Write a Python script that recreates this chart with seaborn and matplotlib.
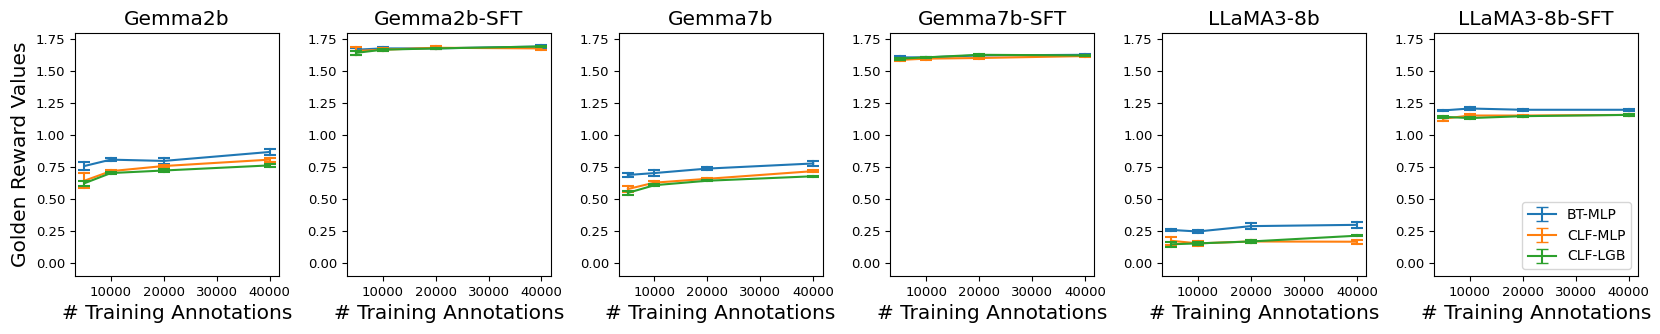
import numpy as np
import pandas as pd
import matplotlib.pyplot as plt
import seaborn as sns

models = ["Gemma2b", "Gemma2b-SFT", "Gemma7b", "Gemma7b-SFT", "LLaMA3-8b", "LLaMA3-8b-SFT"]
methods = ["BT-MLP", "CLF-MLP", "CLF-LGB"]
annotations = [5000, 10000, 20000, 40000]

# mean golden reward per model (rows) and annotation count (cols)
bt_mlp_mean = [
    [0.76, 0.81, 0.80, 0.87],
    [1.67, 1.68, 1.68, 1.695],
    [0.69, 0.705, 0.74, 0.78],
    [1.61, 1.61, 1.625, 1.63],
    [0.26, 0.248, 0.29, 0.30],
    [1.195, 1.21, 1.20, 1.20],
]
bt_mlp_err = [
    [0.03, 0.01, 0.025, 0.02],
    [0.01, 0.01, 0.005, 0.01],
    [0.015, 0.025, 0.01, 0.02],
    [0.008, 0.005, 0.005, 0.005],
    [0.01, 0.015, 0.025, 0.025],
    [0.005, 0.008, 0.008, 0.008],
]
clf_mlp_mean = [
    [0.645, 0.72, 0.76, 0.81],
    [1.66, 1.67, 1.685, 1.68],
    [0.58, 0.63, 0.66, 0.72],
    [1.59, 1.60, 1.605, 1.62],
    [0.175, 0.155, 0.17, 0.168],
    [1.13, 1.155, 1.155, 1.16],
]
clf_mlp_err = [
    [0.06, 0.01, 0.01, 0.015],
    [0.03, 0.01, 0.01, 0.01],
    [0.02, 0.01, 0.01, 0.01],
    [0.01, 0.008, 0.008, 0.005],
    [0.03, 0.02, 0.01, 0.015],
    [0.015, 0.015, 0.008, 0.008],
]
clf_lgb_mean = [
    [0.625, 0.705, 0.725, 0.765],
    [1.645, 1.67, 1.68, 1.695],
    [0.55, 0.61, 0.645, 0.68],
    [1.60, 1.61, 1.63, 1.625],
    [0.148, 0.155, 0.17, 0.215],
    [1.145, 1.135, 1.15, 1.16],
]
clf_lgb_err = [
    [0.02, 0.01, 0.01, 0.01],
    [0.015, 0.008, 0.005, 0.005],
    [0.015, 0.01, 0.005, 0.005],
    [0.008, 0.005, 0.008, 0.005],
    [0.02, 0.01, 0.01, 0.005],
    [0.01, 0.008, 0.005, 0.005],
]

means = {"BT-MLP": bt_mlp_mean, "CLF-MLP": clf_mlp_mean, "CLF-LGB": clf_lgb_mean}
errs = {"BT-MLP": bt_mlp_err, "CLF-MLP": clf_mlp_err, "CLF-LGB": clf_lgb_err}
colors = sns.color_palette("tab10", 3)

# long-form table: each point stored as its lower/upper bound
rows = []
for i, model in enumerate(models):
    for m in methods:
        for j, n in enumerate(annotations):
            mu, e = means[m][i][j], errs[m][i][j]
            rows.append((model, m, n, mu - e))
            rows.append((model, m, n, mu + e))
df = pd.DataFrame(rows, columns=["model", "method", "n", "reward"])

fig, axes = plt.subplots(1, 6, figsize=(16.6, 3.34), dpi=100)
fig.subplots_adjust(left=0.0452, right=0.9867, top=0.901, bottom=0.1737, wspace=0.333)

for ax, model in zip(axes, models):
    sns.lineplot(data=df[df.model == model], x="n", y="reward", hue="method",
                 hue_order=methods, palette=colors, estimator="mean",
                 errorbar=lambda v: (v.min(), v.max()), err_style="bars",
                 err_kws={"capsize": 4, "elinewidth": 1.5, "capthick": 1.5},
                 linewidth=1.5, legend=False, ax=ax)
    ax.set_ylim(-0.1, 1.8)
    ax.set_yticks([0, 0.25, 0.5, 0.75, 1.0, 1.25, 1.5, 1.75])
    ax.set_xticks([10000, 20000, 30000, 40000])
    ax.tick_params(labelsize=9.5)
    ax.set_title(model, fontsize=14.5)
    ax.set_xlabel("# Training Annotations", fontsize=14.5)
    ax.set_ylabel("")

axes[0].set_ylabel("Golden Reward Values", fontsize=14.5)

# errorbar-style legend handles (drawn off-data with NaN)
last = axes[-1]
for m, c in zip(methods, colors):
    last.errorbar([np.nan], [np.nan], yerr=[0.1], color=c, capsize=4,
                  linewidth=1.5, label=m)
last.legend(loc="lower right", fontsize=10)

plt.savefig("out.png", dpi=100)
plt.close()
